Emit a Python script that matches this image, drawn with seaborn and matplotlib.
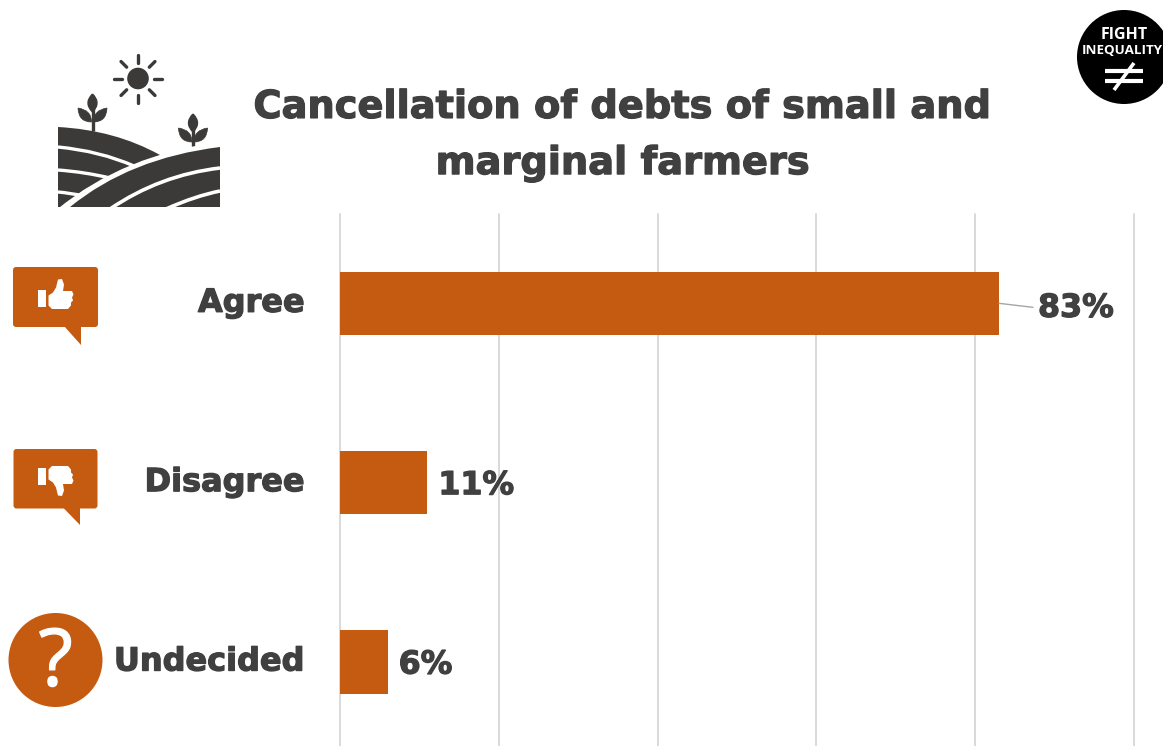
import matplotlib
matplotlib.use("Agg")
import matplotlib.patheffects as pe
import matplotlib.pyplot as plt
import numpy as np
import pandas as pd
import seaborn as sns
from matplotlib.patches import Circle, FancyBboxPatch, PathPatch, Polygon, Rectangle
from matplotlib.path import Path

# Survey responses
responses = ["Agree", "Disagree", "Undecided"]
shares = [83, 11, 6]
share_ticks = [0, 20, 40, 60, 80, 100]
title_lines = "Cancellation of debts of small and\nmarginal farmers"

ORANGE = "#c55a11"
DARK = "#404040"
ICON = "#3b3a39"
W, H = 1163, 746

sns.set_theme(style="white")
plt.rcParams["font.family"] = ["DejaVu Sans"]

fig = plt.figure(figsize=(W / 100, H / 100), dpi=100, facecolor="white")

# Heavier lettering than the plain bold cut
heavy = [pe.withStroke(linewidth=0.9, foreground=DARK)]

# Chart area, in figure fractions
top_px, bottom_px, left_px, right_px = 214, 746, 340, 1134
ax = fig.add_axes([left_px / W, 1 - bottom_px / H, (right_px - left_px) / W, (bottom_px - top_px) / H])

df = pd.DataFrame({"response": responses, "share": shares})
sns.barplot(data=df, x="share", y="response", color=ORANGE, saturation=1, width=0.353,
            linewidth=0, edgecolor="none", ax=ax, zorder=3)

ax.set_xlim(0, 100)
ax.set_ylim(2.468, -0.498)
ax.set_xticks(share_ticks)
ax.xaxis.grid(True, color="#d9d9d9", linewidth=1.4, zorder=0)
ax.yaxis.grid(False)
for line in ax.get_xgridlines():
    line.set_clip_on(False)
ax.set_xlabel("")
ax.set_ylabel("")
ax.tick_params(axis="x", length=0, labelbottom=False)
ax.tick_params(axis="y", length=0, pad=25.5)
for label in ax.get_yticklabels():
    label.set_fontsize(23)
    label.set_fontweight("bold")
    label.set_color(DARK)
    label.set_verticalalignment("center")
    label.set_path_effects(heavy)
for spine in ax.spines.values():
    spine.set_visible(False)

# Value labels; the largest one sits away from its bar on a thin leader
for i, (name, value) in enumerate(zip(responses, shares)):
    offset = (39, -5) if value > 50 else (11, -3)
    ax.annotate(f"{value}%", xy=(value, i), xytext=offset, textcoords="offset pixels",
                ha="left", va="center", fontsize=22.8, fontweight="bold", color=DARK, zorder=5,
                path_effects=heavy)
    if value > 50:
        ax.annotate("", xy=(value, i), xytext=(34, -4), textcoords="offset pixels",
                    arrowprops=dict(arrowstyle="-", color="#a6a6a6", lw=1, shrinkA=0, shrinkB=0), zorder=4)

# Overlay in pixel coordinates for the title and pictograms
ov = fig.add_axes([0, 0, 1, 1], facecolor="none")
ov.set_xlim(0, W)
ov.set_ylim(H, 0)
ov.axis("off")

ov.text(623, 136, title_lines, ha="center", va="center", fontsize=27.6, fontweight="bold",
        color=DARK, linespacing=1.72, path_effects=heavy)


def curve(p0, ctrl, p1, **kw):
    ov.add_patch(PathPatch(Path([p0, ctrl, p1], [Path.MOVETO, Path.CURVE3, Path.CURVE3]), fill=False, **kw))


# Farmland pictogram
ov.add_patch(PathPatch(Path([(58, 127), (115, 130), (160, 155), (160, 207), (58, 207), (58, 127)],
                            [Path.MOVETO, Path.CURVE3, Path.CURVE3, Path.LINETO, Path.LINETO, Path.CLOSEPOLY]),
                       facecolor=ICON, edgecolor="none"))
curve((58, 147), (100, 151), (134, 166), edgecolor="white", linewidth=2.4, zorder=2)
curve((58, 170), (85, 172), (110, 178), edgecolor="white", linewidth=2.4, zorder=2)
curve((58, 192), (70, 193), (84, 196), edgecolor="white", linewidth=2.4, zorder=2)
# Near hill with a white outline along its crest
curve((60, 212), (125, 158), (224, 145), edgecolor="white", linewidth=5.5, zorder=3)
ov.add_patch(PathPatch(Path([(70, 207), (130, 158), (220, 147), (220, 207), (70, 207)],
                            [Path.MOVETO, Path.CURVE3, Path.CURVE3, Path.LINETO, Path.CLOSEPOLY]),
                       facecolor=ICON, edgecolor="none", zorder=4))
curve((110, 209), (160, 175), (220, 168), edgecolor="white", linewidth=2.6, zorder=5)
curve((166, 209), (195, 196), (220, 191), edgecolor="white", linewidth=2.6, zorder=5)
ov.add_patch(Rectangle((220, 140), 6, 72, facecolor="white", edgecolor="none", zorder=6))
ov.add_patch(Rectangle((50, 207), 176, 6, facecolor="white", edgecolor="none", zorder=6))

# Sun
ov.add_patch(Circle((138, 78.5), 10.8, facecolor=ICON, edgecolor="none"))
for ang in np.arange(0, 360, 45):
    c, s = np.cos(np.radians(ang)), np.sin(np.radians(ang))
    ov.plot([138 + 16 * c, 138 + 24 * c], [78.5 + 16 * s, 78.5 + 24 * s], color=ICON, lw=2.4, solid_capstyle="round")


def sprout(x, base, top):
    ov.plot([x, x], [base, top + 14], color=ICON, lw=2.4, solid_capstyle="butt")
    ov.add_patch(PathPatch(Path([(x, top), (x + 9, top + 9), (x, top + 18), (x - 9, top + 9), (x, top)],
                                [Path.MOVETO, Path.CURVE3, Path.CURVE3, Path.CURVE3, Path.CURVE3]),
                           facecolor=ICON, edgecolor=ICON, linewidth=1))
    for side in (-1, 1):
        ov.add_patch(PathPatch(Path([(x + side * 14.5, top + 14), (x + side * 14, top + 28), (x + side * 1, top + 28),
                                     (x + side * 1, top + 16), (x + side * 14.5, top + 14)],
                                    [Path.MOVETO, Path.CURVE3, Path.CURVE3, Path.CURVE3, Path.CURVE3]),
                               facecolor=ICON, edgecolor=ICON, linewidth=0.5))


sprout(92.5, 131, 94)
sprout(193, 152, 114)

# Campaign badge, cut off by the right edge of the figure
ov.add_patch(Circle((1124, 57), 47, facecolor="black", edgecolor="none"))
ov.text(1124, 35, "FIGHT", ha="center", va="center", color="white", fontsize=11.5, fontweight="bold", family="Open Sans")
ov.text(1122, 51, "INEQUALITY", ha="center", va="center", color="white", fontsize=9.6, fontweight="bold", family="Open Sans")
for yy in (71, 81):
    ov.plot([1105, 1143], [yy, yy], color="white", lw=3, solid_capstyle="butt")
ov.plot([1114, 1134], [90, 63], color="white", lw=2.6, solid_capstyle="butt")


def speech_bubble(x0, y0, x1, y1, tail_x0, tail_tip):
    ov.add_patch(FancyBboxPatch((x0 + 2, y0 + 2), x1 - x0 - 4, y1 - y0 - 4, boxstyle="round,pad=2,rounding_size=3",
                                facecolor=ORANGE, edgecolor="none"))
    ov.add_patch(Polygon([(tail_x0, y1 - 1), (tail_tip[0], tail_tip[1]), (tail_tip[0], y1 - 1)],
                         facecolor=ORANGE, edgecolor="none"))


def thumb(cy, sign):
    # sign = +1 points the thumb up, -1 points it down
    ov.add_patch(Rectangle((38, cy - 8.5), 8, 17, facecolor="white", edgecolor="none"))
    pts = [(48.5, -3), (53, -6), (56, -11), (58, -19), (62, -19.5), (64, -14), (63, -7.5), (72, -7.5), (73.5, -4),
           (72, -1), (73, 2), (71, 4), (71, 7), (68, 10.5), (52, 10.5), (48.5, 7)]
    ov.add_patch(Polygon([(x, cy + sign * y) for x, y in pts], closed=True, facecolor="white", edgecolor="none"))


speech_bubble(13, 267, 98, 327, 64, (81, 345))
thumb(298.5, 1)
speech_bubble(13.5, 449, 97.5, 508.5, 63, (80, 525))
thumb(476.5, -1)

# Undecided pictogram
ov.add_patch(Circle((55.5, 660), 47, facecolor=ORANGE, edgecolor="none"))
ov.text(55.5, 665, "?", ha="center", va="center", color="white", fontsize=57, family="Open Sans",
        path_effects=[pe.withStroke(linewidth=1, foreground="white")])

fig.savefig("out.png", dpi=100, facecolor="white")
